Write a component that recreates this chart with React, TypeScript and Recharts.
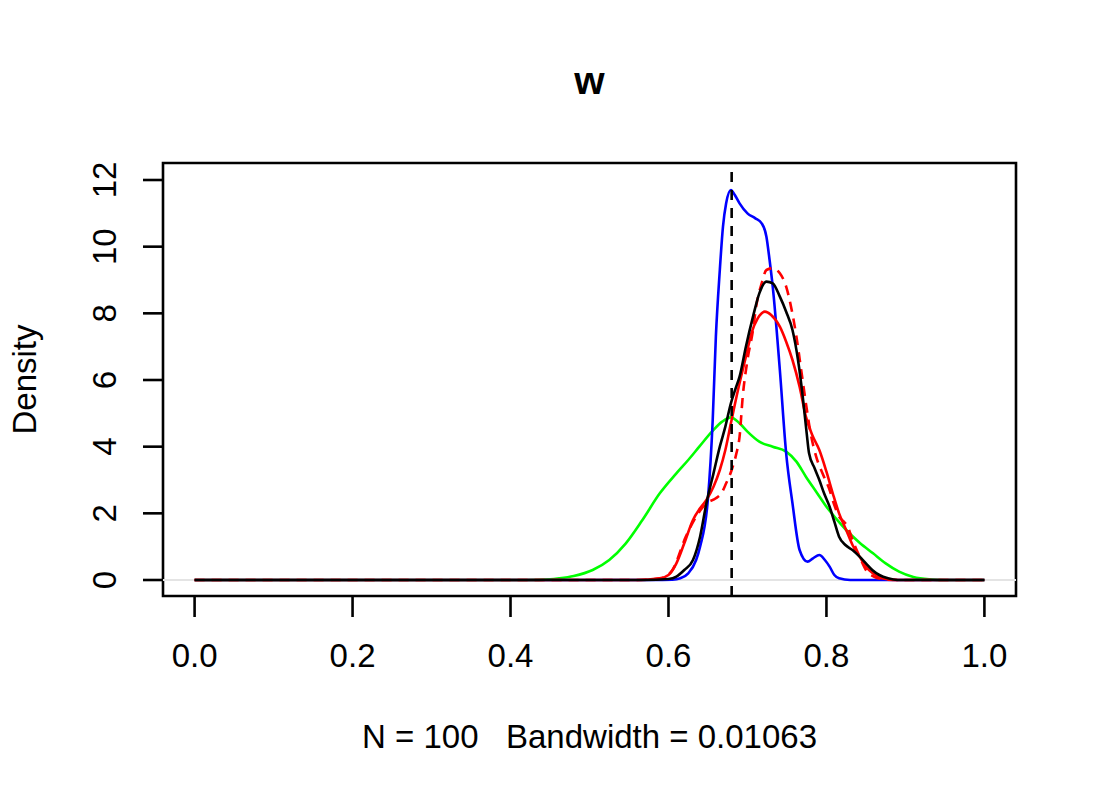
import React from "react";
import {
  Customized,
  Line,
  LineChart,
  ReferenceArea,
  ReferenceLine,
  XAxis,
  YAxis,
} from "recharts";

// density estimates of w
const greenX = [0, 0.42, 0.45, 0.462, 0.48, 0.504, 0.525, 0.546, 0.567, 0.589, 0.61, 0.625, 0.639, 0.655, 0.668, 0.679, 0.69, 0.7, 0.715, 0.732, 0.749, 0.762, 0.774, 0.787, 0.8, 0.812, 0.825, 0.842, 0.859, 0.875, 0.892, 0.91, 0.93, 0.95, 1];
const greenY = [0, 0, 0.02, 0.05, 0.12, 0.3, 0.6, 1.1, 1.8, 2.6, 3.2, 3.6, 4.0, 4.45, 4.75, 4.88, 4.7, 4.45, 4.15, 4.0, 3.85, 3.55, 3.1, 2.65, 2.2, 1.85, 1.5, 1.12, 0.8, 0.5, 0.25, 0.09, 0.02, 0, 0];

const blueX = [0, 0.58, 0.605, 0.615, 0.625, 0.635, 0.64, 0.65, 0.656, 0.66, 0.665, 0.669, 0.673, 0.679, 0.684, 0.69, 0.7, 0.71, 0.718, 0.724, 0.728, 0.732, 0.741, 0.749, 0.757, 0.766, 0.776, 0.783, 0.791, 0.798, 0.804, 0.81, 0.816, 0.83, 1];
const blueY = [0, 0, 0.01, 0.05, 0.2, 0.6, 1.0, 2.45, 4.8, 7.3, 9.3, 10.6, 11.3, 11.7, 11.55, 11.3, 11.0, 10.85, 10.7, 10.3, 9.6, 8.8, 6.3, 3.8, 2.3, 0.9, 0.55, 0.65, 0.75, 0.6, 0.4, 0.15, 0.05, 0, 0];

const redX = [0, 0.56, 0.589, 0.6, 0.61, 0.62, 0.631, 0.64, 0.648, 0.657, 0.665, 0.672, 0.679, 0.688, 0.698, 0.705, 0.713, 0.722, 0.73, 0.741, 0.749, 0.757, 0.766, 0.774, 0.782, 0.791, 0.8, 0.808, 0.816, 0.825, 0.833, 0.842, 0.85, 0.859, 0.867, 0.875, 0.89, 1];
const redY = [0, 0, 0.05, 0.15, 0.5, 1.1, 1.8, 2.15, 2.4, 2.8, 3.3, 3.9, 4.7, 5.7, 6.7, 7.4, 7.85, 8.05, 7.95, 7.6, 7.15, 6.6, 5.8, 4.9, 4.35, 3.9, 3.25, 2.6, 2.0, 1.5, 1.05, 0.7, 0.4, 0.2, 0.08, 0.03, 0, 0];

const redDashX = [0, 0.56, 0.59, 0.605, 0.622, 0.635, 0.648, 0.66, 0.667, 0.673, 0.68, 0.686, 0.69, 0.694, 0.7, 0.707, 0.711, 0.718, 0.724, 0.732, 0.741, 0.749, 0.756, 0.762, 0.768, 0.774, 0.78, 0.787, 0.795, 0.804, 0.81, 0.816, 0.822, 0.827, 0.833, 0.842, 0.85, 0.86, 0.87, 0.89, 1];
const redDashY = [0, 0, 0.05, 0.3, 1.3, 1.9, 2.3, 2.45, 2.6, 2.9, 3.3, 3.8, 4.3, 5.5, 6.6, 7.5, 8.2, 8.9, 9.3, 9.35, 9.2, 8.8, 8.1, 7.3, 6.3, 5.3, 4.4, 3.7, 3.2, 2.7, 2.25, 1.9, 1.75, 1.6, 1.2, 0.7, 0.3, 0.1, 0.03, 0, 0];

const blackX = [0, 0.57, 0.6, 0.61, 0.62, 0.631, 0.64, 0.648, 0.657, 0.665, 0.672, 0.679, 0.685, 0.69, 0.698, 0.707, 0.715, 0.724, 0.732, 0.741, 0.749, 0.757, 0.764, 0.77, 0.775, 0.778, 0.785, 0.791, 0.797, 0.804, 0.81, 0.816, 0.824, 0.833, 0.842, 0.85, 0.858, 0.867, 0.878, 0.89, 1];
const blackY = [0, 0, 0.03, 0.1, 0.3, 0.6, 1.3, 2.3, 3.2, 4.0, 4.6, 5.3, 5.75, 6.1, 7.0, 7.9, 8.6, 8.95, 8.9, 8.5, 8.05, 7.5, 6.6, 5.5, 4.4, 3.8, 3.35, 3.0, 2.6, 2.2, 1.75, 1.3, 1.05, 0.9, 0.7, 0.5, 0.3, 0.15, 0.05, 0, 0];

const trueValue = 0.68;
const xTicks = [0, 0.2, 0.4, 0.6, 0.8, 1];
const yTicks = [0, 2, 4, 6, 8, 10, 12];
const xDomain: [number, number] = [-0.04, 1.04];
const yDomain: [number, number] = [-0.48, 12.51];

const title = "w";
const xLabel = "N = 100   Bandwidth = 0.01063";
const yLabel = "Density";

const zip = (xs: number[], ys: number[]) => xs.map((x, i) => ({ x, y: ys[i] }));

const FONT = '"Liberation Sans", Arial, Helvetica, sans-serif';
const FS = 33;
const LW = 2.6;

function YTick({ x, y, payload }: any) {
  return (
    <text
      x={x}
      y={y}
      transform={`rotate(-90, ${x}, ${y})`}
      textAnchor="middle"
      fontFamily={FONT}
      fontSize={FS}
      fill="#000"
    >
      {payload.value}
    </text>
  );
}

function XTick({ x, y, payload }: any) {
  return (
    <text x={x} y={y + FS * 0.71} textAnchor="middle" fontFamily={FONT} fontSize={FS} fill="#000">
      {payload.value.toFixed(1)}
    </text>
  );
}

function Texts() {
  return (
    <g fontFamily={FONT} fill="#000">
      <text x={589.5} y={94} textAnchor="middle" fontSize={39} fontWeight="bold">
        {title}
      </text>
      <text x={589.5} y={748} textAnchor="middle" fontSize={FS} style={{ whiteSpace: "pre" }}>
        {xLabel}
      </text>
      <text x={36} y={379.5} textAnchor="middle" fontSize={FS} transform="rotate(-90, 36, 379.5)">
        {yLabel}
      </text>
    </g>
  );
}

export default function App() {
  return (
    <div style={{ position: "absolute", left: 0, top: 0, background: "#fff" }}>
      <LineChart width={1100} height={800} margin={{ top: 163, right: 84, bottom: 144, left: 103 }}>
        <XAxis
          dataKey="x"
          type="number"
          domain={xDomain}
          ticks={xTicks}
          axisLine={false}
          tickSize={21}
          tickMargin={27}
          tickLine={{ stroke: "#000", strokeWidth: LW }}
          tick={<XTick />}
          height={60}
          allowDataOverflow
        />
        <YAxis
          dataKey="y"
          type="number"
          domain={yDomain}
          ticks={yTicks}
          axisLine={false}
          tickSize={20}
          tickMargin={27}
          tickLine={{ stroke: "#000", strokeWidth: LW }}
          tick={<YTick />}
          width={60}
          allowDataOverflow
        />
        <ReferenceLine y={0} stroke="#e4e4e4" strokeWidth={2} />
        <Line data={zip(greenX, greenY)} dataKey="y" type="monotone" stroke="#00ff00" strokeWidth={LW} dot={false} isAnimationActive={false} />
        <Line data={zip(blueX, blueY)} dataKey="y" type="monotone" stroke="#0000ff" strokeWidth={LW} dot={false} isAnimationActive={false} />
        <Line data={zip(redX, redY)} dataKey="y" type="monotone" stroke="#ff0000" strokeWidth={LW} dot={false} isAnimationActive={false} />
        <Line data={zip(redDashX, redDashY)} dataKey="y" type="monotone" stroke="#ff0000" strokeWidth={LW} strokeDasharray="10 7" dot={false} isAnimationActive={false} />
        <Line data={zip(blackX, blackY)} dataKey="y" type="monotone" stroke="#000000" strokeWidth={LW} dot={false} isAnimationActive={false} />
        <ReferenceLine x={trueValue} stroke="#000" strokeWidth={LW} strokeDasharray="10 8" />
        <ReferenceArea x1={xDomain[0]} x2={xDomain[1]} y1={yDomain[0]} y2={yDomain[1]} fill="none" stroke="#000" strokeWidth={LW} fillOpacity={0} />
        <Customized component={Texts} />
      </LineChart>
    </div>
  );
}
